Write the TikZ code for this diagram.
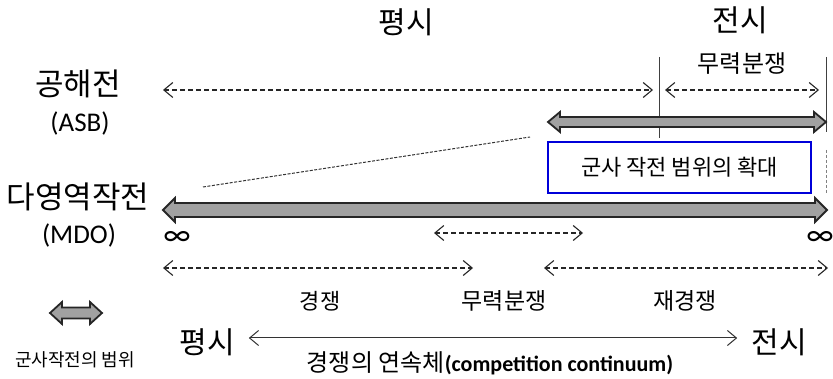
\documentclass[tikz,border=0pt]{standalone}
\usepackage{fontspec}
\setmainfont{Carlito}
\newfontfamily\kr{Noto Sans CJK KR}
\newfontfamily\djvfont{DejaVu Sans}
\usetikzlibrary{arrows.meta}
\newcommand\fatarrow[6]{%
  \filldraw[fatstyle] (#1,#3) -- (#1+#6,#3-#5) -- (#1+#6,#3-#4) -- (#2-#6,#3-#4) -- (#2-#6,#3-#5)
    -- (#2,#3) -- (#2-#6,#3+#5) -- (#2-#6,#3+#4) -- (#1+#6,#3+#4) -- (#1+#6,#3+#5) -- cycle;}
\begin{document}
\begin{tikzpicture}[x=1pt,y=-1pt,
  fatstyle/.style={draw=black!85, line width=1.8pt, fill=black!37, line join=miter},
  dasharrow/.style={draw=black!85, line width=1.1pt, dash pattern=on 5pt off 3pt,
    {Straight Barb[length=9pt,width=15pt,line width=1.1pt]}-{Straight Barb[length=9pt,width=15pt,line width=1.1pt]}},
  solidarrow/.style={draw=black!80, line width=1pt,
    {Straight Barb[length=9pt,width=15pt]}-{Straight Barb[length=9pt,width=15pt]}},
  vline/.style={draw=black!75, line width=0.8pt},
  lbl/.style={inner sep=0pt, font=\kr\fontsize{23}{27}\selectfont},
  big/.style={inner sep=0pt, font=\kr\fontsize{30}{34}\selectfont},
  latin/.style={inner sep=0pt, font=\fontsize{27}{31}\selectfont},
  infsym/.style={inner sep=0pt, font=\fontsize{32}{36}\selectfont},
]
\useasboundingbox (0,0) rectangle (833,379);

% top labels
\node[big] (peace) at (406,22) {평시};
\node[big] (war) at (740,20) {전시};
\node[lbl, font=\kr\fontsize{24}{28}\selectfont] (conflict1) at (742,64) {무력분쟁};

% left labels
\node[big, font=\kr\fontsize{31}{35}\selectfont] (asb) at (78,84) {공해전};
\node[latin] (asbe) at (80,123) {(ASB)};
\node[big, font=\kr\fontsize{31}{35}\selectfont] (mdo) at (78,197) {다영역작전};
\node[latin] (mdoe) at (79,235) {(MDO)};

% vertical separators
\coordinate (v1t) at (659,57); \coordinate (v1b) at (659,138);
\coordinate (v2t) at (826,57); \coordinate (v2b) at (826,132);
\draw[vline] (v1t) -- (v1b);
\draw[vline] (v2t) -- (v2b);
\coordinate (v3t) at (826,150); \coordinate (v3b) at (826,193);
\draw[draw=black!50, line width=1pt, dash pattern=on 3pt off 2pt] (v3t) -- (v3b);

% ASB dashed arrows
\coordinate (a1l) at (163,90); \coordinate (a1r) at (653,90);
\coordinate (a2l) at (665,90); \coordinate (a2r) at (819,90);
\draw[dasharrow] (a1l) -- (a1r);
\draw[dasharrow] (a2l) -- (a2r);

% ASB thick arrow
\fatarrow{548}{826}{122}{5}{10}{12}

% guide line
\coordinate (g1) at (203,187); \coordinate (g2) at (530,137);
\draw[draw=black!80, line width=1pt, dash pattern=on 3pt off 1.5pt] (g1) -- (g2);

% blue box
\node[draw=blue!85!black, line width=1.4pt, minimum width=263pt, minimum height=51pt,
  inner sep=0pt, font=\kr\fontsize{22}{26}\selectfont] (expand) at (679.5,167.5) {군사 작전 범위의 확대};

% MDO thick arrow
\fatarrow{163}{827}{210}{7}{12}{12}

% infinity
\node[infsym] (inf1) at (177,238) {∞};
\node[infsym] (inf2) at (820,238) {∞};

% MDO dashed arrows
\coordinate (b1l) at (434,233); \coordinate (b1r) at (583,233);
\draw[dasharrow] (b1l) -- (b1r);
\coordinate (c1l) at (163,268); \coordinate (c1r) at (473,268);
\coordinate (c2l) at (544,268); \coordinate (c2r) at (828,268);
\draw[dasharrow] (c1l) -- (c1r);
\draw[dasharrow] (c2l) -- (c2r);

% phase labels
\node[lbl, font=\kr\fontsize{22}{26}\selectfont] (comp) at (320,301) {경쟁};
\node[lbl] (conflict2) at (504,301) {무력분쟁};
\node[lbl] (recomp) at (685,301) {재경쟁};

% legend
\fatarrow{50}{102}{313}{5.5}{11}{12}
\node[inner sep=0pt, font=\kr\fontsize{18}{22}\selectfont] (legend) at (75,360) {군사작전의 범위};

% continuum
\node[big] (peace2) at (207,342) {평시};
\node[big] (war2) at (779,342) {전시};
\path (peace2.east) ++(14,-4) coordinate (s1) (war2.west) ++(-14,-4) coordinate (s2);
\draw[solidarrow] (s1) -- (s2);
\node[inner sep=0pt, anchor=base] (cont) at (490,371)
  {{\kr\fontsize{24}{28}\selectfont 경쟁의 연속체}{\bfseries\fontsize{22}{26}\selectfont (competition continuum)}};
\end{tikzpicture}
\end{document}
